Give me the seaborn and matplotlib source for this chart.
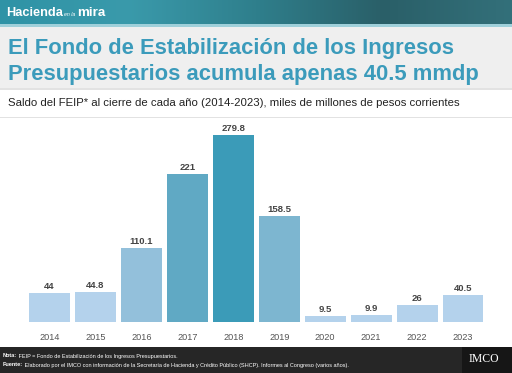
import numpy as np
import pandas as pd
import matplotlib
matplotlib.use("Agg")
import matplotlib.pyplot as plt
import seaborn as sns
from matplotlib.patches import Rectangle
from matplotlib.colors import LinearSegmentedColormap
from matplotlib.text import Annotation

years = ["2014", "2015", "2016", "2017", "2018", "2019", "2020", "2021", "2022", "2023"]
saldo = [44, 44.8, 110.1, 221, 279.8, 158.5, 9.5, 9.9, 26, 40.5]
labels = ["44", "44.8", "110.1", "221", "279.8", "158.5", "9.5", "9.9", "26", "40.5"]
bar_colors = ["#b4d2ec", "#b4d2ec", "#93c0db", "#60a9c4", "#3b9bb8",
              "#7db6d0", "#b4d2ec", "#b4d2ec", "#b4d2ec", "#b4d2ec"]

title_lines = ["El Fondo de Estabilización de los Ingresos",
               "Presupuestarios acumula apenas 40.5 mmdp"]
subtitle = "Saldo del FEIP* al cierre de cada año (2014-2023), miles de millones de pesos corrientes"
nota = "FEIP = Fondo de Estabilización de los Ingresos Presupuestarios."
fuente = ("Elaborado por el IMCO con información de la Secretaría de Hacienda y Crédito Público "
          "(SHCP). Informes al Congreso (varios años).")

sns.set_theme(style="white")
plt.rcParams["font.family"] = ["Liberation Sans", "DejaVu Sans"]

W, H = 512, 373
fig = plt.figure(figsize=(W / 100, H / 100), dpi=100)
fig.patch.set_facecolor("white")

def px(x, y, w, h):
    return [x / W, 1 - (y + h) / H, w / W, h / H]

# title band
fig.patches.append(Rectangle((0, 1 - 88 / H), 1, 64 / H, transform=fig.transFigure,
                             facecolor="#efefef", edgecolor="none", zorder=0))
# subtitle band borders
fig.patches.append(Rectangle((0, 1 - 118 / H), 1, 1.5 / H, transform=fig.transFigure,
                             facecolor="#e2e2e2", edgecolor="none", zorder=0))
fig.patches.append(Rectangle((0, 1 - 89.5 / H), 1, 1.5 / H, transform=fig.transFigure,
                             facecolor="#e2e2e2", edgecolor="none", zorder=0))
# footer
fig.patches.append(Rectangle((0, 0), 1, 26 / H, transform=fig.transFigure,
                             facecolor="#262626", edgecolor="none", zorder=0))
fig.patches.append(Rectangle((462 / W, 0), 50 / W, 26 / H, transform=fig.transFigure,
                             facecolor="#161616", edgecolor="none", zorder=0))

# header gradient
hax = fig.add_axes(px(0, 0, W, 24))
grad = np.linspace(0, 1, 256)[None, :]
cmap = LinearSegmentedColormap.from_list("hdr", ["#2f93a6", "#3a9aab", "#2f7f8c", "#2a5f68", "#33707a"])
hax.imshow(grad, aspect="auto", cmap=cmap, extent=[0, 1, 0, 1])
hax.set_axis_off()
fig.patches.append(Rectangle((0, 1 - 26.5 / H), 1, 2.5 / H, transform=fig.transFigure,
                             facecolor="#9fd0da", edgecolor="none", zorder=0))
fig.text(6 / W, 1 - 13 / H, "Hacienda", color="white", fontsize=9.2, fontweight="bold",
         va="center", ha="left")
fig.text(64 / W, 1 - 14 / H, "en la", color="white", fontsize=3.8, style="italic",
         va="center", ha="left")
fig.text(77.5 / W, 1 - 13 / H, "mira", color="white", fontsize=9.6, fontweight="bold",
         va="center", ha="left")

# titles
fig.text(8 / W, 1 - 54 / H, title_lines[0], color="#3b9bbb", fontsize=15.8,
         fontweight="bold", ha="left", va="baseline")
fig.text(8 / W, 1 - 80 / H, title_lines[1], color="#3b9bbb", fontsize=15.8,
         fontweight="bold", ha="left", va="baseline")
fig.text(8 / W, 1 - 103 / H, subtitle, color="#222222", fontsize=8.2,
         ha="left", va="center")

# footer text
t1 = fig.text(3 / W, 1 - 357 / H, "Nota:", color="white", fontsize=4.0, fontweight="bold",
              ha="left", va="baseline")
fig.add_artist(Annotation(" " + nota, xy=(1, 0), xycoords=t1,
                          color="white", fontsize=4.0, ha="left", va="baseline"))
t2 = fig.text(3 / W, 1 - 365.5 / H, "Fuente:", color="white", fontsize=4.0, fontweight="bold",
              ha="left", va="baseline")
fig.add_artist(Annotation(" " + fuente, xy=(1, 0), xycoords=t2,
                          color="white", fontsize=4.0, ha="left", va="baseline"))
fig.text(484 / W, 1 - 359 / H, "IMCO", color="white", fontsize=8.5, family="Liberation Serif",
         ha="center", va="center")

# bar chart
ax = fig.add_axes(px(26.5, 122, 459.5, 200))
df = pd.DataFrame({"year": years, "saldo": saldo})
sns.barplot(data=df, x="year", y="saldo", hue="year", palette=bar_colors, legend=False,
            width=0.89, saturation=1, ax=ax, edgecolor="none")
ax.set_xlim(-0.5, len(years) - 0.5)
ax.set_ylim(0, 299.5)
ax.set_xlabel("")
ax.set_ylabel("")
ax.set_yticks([])
for s in ax.spines.values():
    s.set_visible(False)
ax.set_facecolor("none")
ax.tick_params(axis="x", length=0, pad=8, labelsize=6.6, labelcolor="#555555")
for i, c in enumerate(ax.containers):
    ax.bar_label(c, labels=[labels[i]], padding=1.5, fontsize=6.8, fontweight="bold",
                 color="#444444")

fig.savefig("out.png", dpi=100)
